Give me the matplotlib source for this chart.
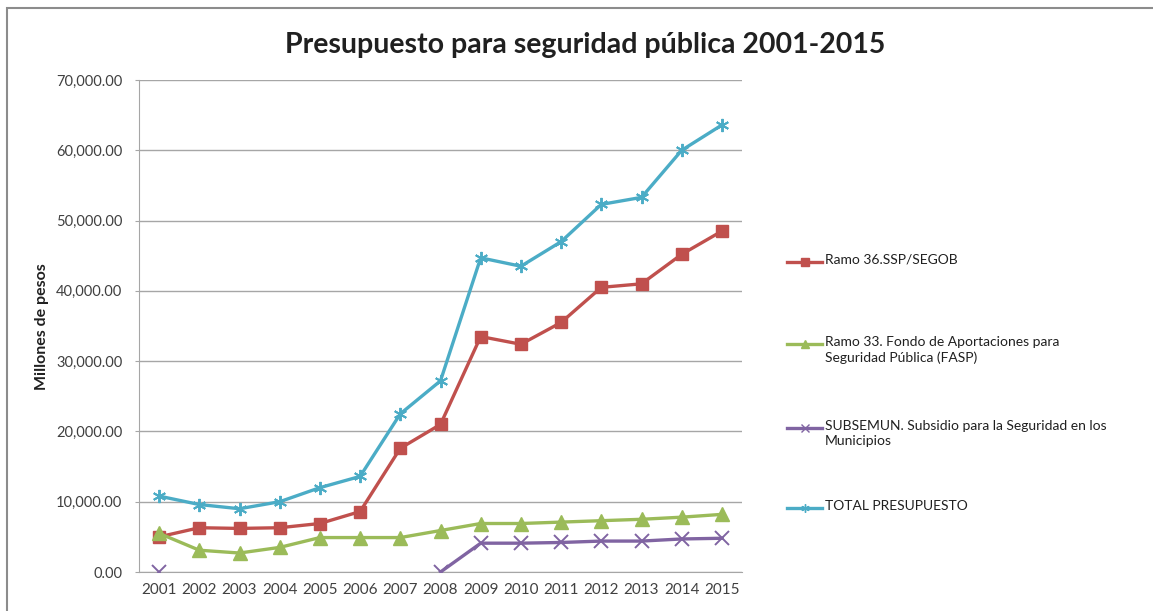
import numpy as np
import matplotlib
matplotlib.use("Agg")
import matplotlib.pyplot as plt
from matplotlib.lines import Line2D
from matplotlib.patches import Rectangle
from matplotlib.ticker import FuncFormatter, MultipleLocator

years = [str(y) for y in range(2001, 2016)]
ramo36 = [5000, 6300, 6200, 6300, 6900, 8600, 17600, 21000, 33500, 32400, 35500, 40500, 41000, 45200, 48500]
ramo33 = [5500, 3100, 2700, 3500, 4900, 4900, 4900, 5900, 6900, 6900, 7100, 7300, 7500, 7800, 8200]
subsemun = [0, np.nan, np.nan, np.nan, np.nan, np.nan, np.nan, 0, 4100, 4100, 4200, 4400, 4400, 4700, 4800]
total = [10800, 9600, 9000, 10000, 12000, 13600, 22500, 27200, 44700, 43500, 47000, 52300, 53300, 60000, 63600]

labels = ["Ramo 36.SSP/SEGOB",
          "Ramo 33. Fondo de Aportaciones para\nSeguridad Pública (FASP)",
          "SUBSEMUN. Subsidio para la Seguridad en los\nMunicipios",
          "TOTAL PRESUPUESTO"]
title = "Presupuesto para seguridad pública 2001-2015"
ylabel = "Millones de pesos"

colors = ["#C0504D", "#9BBB59", "#8064A2", "#4BACC6"]
markers = ["s", "^", "x", (6, 2, 0)]
series = [ramo36, ramo33, subsemun, total]

plt.rcParams['font.family'] = ['Lato', 'DejaVu Sans']

W, H = 1153, 611
fig = plt.figure(figsize=(W / 100, H / 100), dpi=100)
fig.patch.set_facecolor("white")

# outer frame
fig.add_artist(Rectangle((7 / W, -0.1), 1.2, 1 - 8 / H + 0.1, transform=fig.transFigure,
                         fill=False, edgecolor="#8c8c8c", linewidth=1.5))

ax = fig.add_axes([139 / W, 1 - 572 / H, (742 - 139) / W, (572 - 80) / H])
x = np.arange(len(years))
for s, c, m in zip(series, colors, markers):
    ms = 9 if m == "s" else 9.5
    mew = 1.4 if (m == "x" or isinstance(m, tuple)) else 1
    ax.plot(x, s, color=c, marker=m, markersize=ms, linewidth=2.4,
            markeredgewidth=mew, markerfacecolor=c, markeredgecolor=c, zorder=3)

ax.set_xlim(-0.5, len(years) - 0.5)
ax.set_ylim(0, 70000)
ax.yaxis.set_major_locator(MultipleLocator(10000))
ax.yaxis.set_major_formatter(FuncFormatter(lambda v, p: f"{v:,.2f}"))
ax.set_xticks(x)
ax.set_xticklabels(years)
ax.grid(axis="y", color="#a6a6a6", linewidth=1)
ax.set_axisbelow(True)
for sp in ["top", "right"]:
    ax.spines[sp].set_visible(False)
for sp in ["left", "bottom"]:
    ax.spines[sp].set_color("#a6a6a6")
ax.tick_params(axis="both", length=0, colors="#404040")
ax.tick_params(axis="x", labelsize=11, pad=8)
ax.yaxis.set_tick_params(which="major", left=True, length=3, color="#a6a6a6",
                         labelsize=10.5, pad=9)

fig.text(42 / W, 1 - 327 / H, ylabel, rotation=90, ha="center", va="center",
         fontsize=11.5, fontweight="bold", color="#202020")
fig.text(585 / W, 1 - 45 / H, title, ha="center", va="center",
         fontsize=20.5, fontweight="bold", color="#202020")

# legend
ys = [262, 344, 428, 508]
for lab, c, m, yy in zip(labels, colors, markers, ys):
    fy = 1 - yy / H
    fig.add_artist(Line2D([787 / W, 822 / W], [fy, fy], transform=fig.transFigure,
                          color=c, linewidth=2.4))
    fig.add_artist(Line2D([804.5 / W], [fy], transform=fig.transFigure, color=c,
                          marker=m, markersize=6, markerfacecolor=c, markeredgecolor=c,
                          linestyle="none"))
    fig.text(825 / W, fy + 8 / H, lab, ha="left", va="top", fontsize=10,
             color="#202020", linespacing=1.3)

fig.savefig("out.png", dpi=100)
